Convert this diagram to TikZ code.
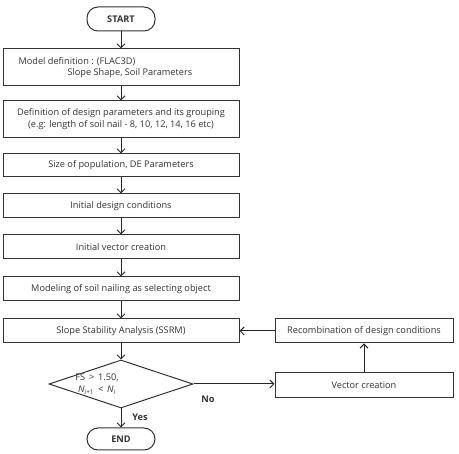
\documentclass[tikz,border=0pt]{standalone}
\usepackage{fontspec}
\setmainfont{Open Sans}
\usetikzlibrary{shapes.geometric,arrows.meta}
\begin{document}
\begin{tikzpicture}[x=1pt,y=-1pt,
  every node/.style={font=\fontsize{9.2}{12}\selectfont, text=black!80},
  box/.style={draw=black!80, line width=1pt, minimum width=236pt, inner sep=0pt},
  sidebox/.style={draw=black!80, line width=1pt, minimum width=178pt, inner sep=0pt},
  term/.style={draw=black!80, line width=1pt, rounded corners=11pt, minimum width=68pt, inner sep=0pt, font=\fontsize{9.2}{12}\selectfont\bfseries},
  flow/.style={draw=black!85, line width=1pt, -{Straight Barb[length=4pt,width=8pt]}},
  lbl/.style={font=\fontsize{9.2}{12}\selectfont\bfseries}
]
\useasboundingbox (0,0) rectangle (459,454);
\node[term, minimum height=24pt] (start) at (121,19) {START};
\node[box, minimum height=37pt] (b1) at (121,67.5) {};
\node[anchor=west] (b1a) at (15,62) {Model definition : (FLAC3D)};
\node[anchor=west] (b1b) at (64,73) {Slope Shape, Soil Parameters};
\node[box, minimum height=37pt, align=center] (b2) at (121,119.5) {Definition of design parameters and its grouping\\(e.g: length of soil nail - 8, 10, 12, 14, 16 etc)};
\node[box, minimum height=23pt] (b3) at (121,165.5) {Size of population, DE Parameters};
\node[box, minimum height=24pt] (b4) at (121,206) {Initial design conditions};
\node[box, minimum height=24pt] (b5) at (121,247) {Initial vector creation};
\node[box, minimum height=24pt] (b6) at (121,289) {Modeling of soil nailing as selecting object};
\node[box, minimum height=24pt] (ssrm) at (121,331) {Slope Stability Analysis (SSRM)};
\node[sidebox, minimum height=24pt] (rec) at (364,331) {Recombination of design conditions};
\node[draw=black!80, line width=1pt, shape=diamond, minimum width=144pt, minimum height=48pt, inner sep=0pt] (dec) at (121,384) {};
\node[align=center] (dect) at (97,384) {FS \,>\, 1.50,\\\textit{N}\textsubscript{\textit{i}+1}\, <\, \textit{N}\textsubscript{\textit{i}}};
\node[sidebox, minimum height=25pt] (vec) at (364,385.5) {Vector creation};
\node[term, minimum height=22pt] (end) at (121,439) {END};
\node[lbl] (no) at (208,399) {No};
\node[lbl] (yes) at (140,417) {Yes};
\draw[flow] (start) -- (b1);
\draw[flow] (b1) -- (b2);
\draw[flow] (b2) -- (b3);
\draw[flow] (b3) -- (b4);
\draw[flow] (b4) -- (b5);
\draw[flow] (b5) -- (b6);
\draw[flow] (b6) -- (ssrm);
\draw[flow] (ssrm) -- (dec);
\draw[flow] (dec) -- (end);
\draw[flow] (dec.east) -- (dec.east -| vec.west);
\draw[flow] (vec) -- (rec);
\draw[flow] (rec) -- (ssrm);
\end{tikzpicture}
\end{document}
